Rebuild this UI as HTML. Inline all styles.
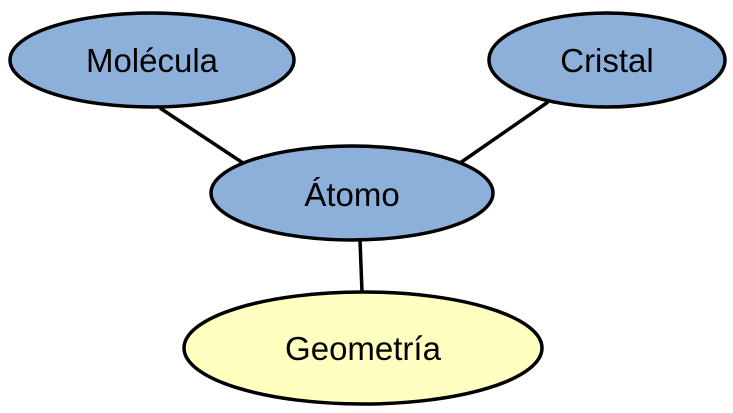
<!DOCTYPE html>
<html><head><meta charset="utf-8"><style>html,body{margin:0;padding:0;background:#fff}svg{display:block}</style></head>
<body>
<svg width="733" height="413" viewBox="0 0 733 413" xmlns="http://www.w3.org/2000/svg">
<g stroke="#000" stroke-width="3.5">
<line x1="160" y1="108" x2="243" y2="163"/>
<line x1="548" y1="102" x2="460" y2="163"/>
<line x1="360" y1="240" x2="362" y2="292"/>
<ellipse cx="152" cy="60" rx="142" ry="47" fill="#8db0da"/>
<ellipse cx="607" cy="60" rx="118" ry="47" fill="#8db0da"/>
<ellipse cx="352" cy="193" rx="141" ry="47" fill="#8db0da"/>
<ellipse cx="363" cy="348" rx="179" ry="56" fill="#ffffc0"/>
</g>
<g font-family="Liberation Sans, Arial, sans-serif" font-size="33" text-anchor="middle" fill="#000">
<text x="152" y="72">Molécula</text>
<text x="607" y="72">Cristal</text>
<text x="352" y="206">Átomo</text>
<text x="363" y="360">Geometría</text>
</g>
</svg>
</body></html>
